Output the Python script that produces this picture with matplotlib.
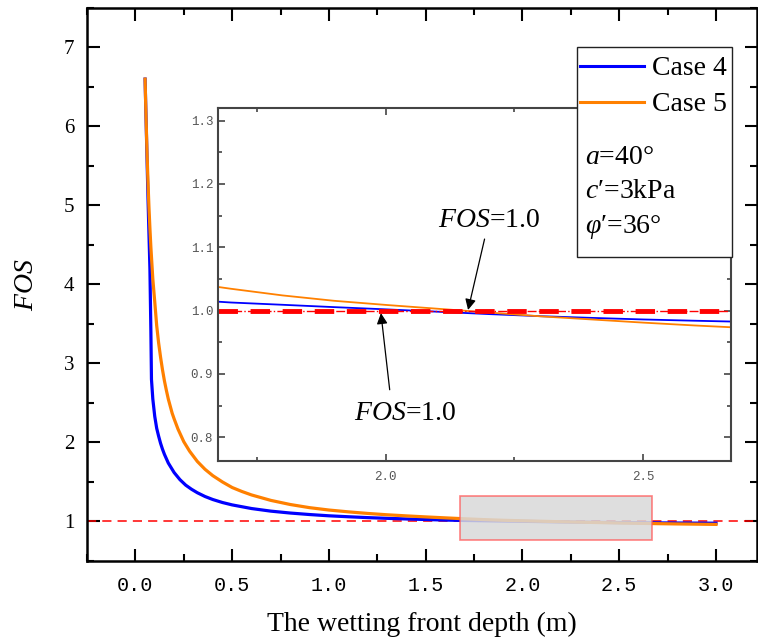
import matplotlib
matplotlib.use("Agg")
import matplotlib.pyplot as plt
from matplotlib.patches import Rectangle
from matplotlib.lines import Line2D
from matplotlib.ticker import MultipleLocator, FormatStrFormatter

plt.rcParams['font.family'] = ['Liberation Serif', 'DejaVu Serif']
plt.rcParams['mathtext.fontset'] = 'custom'
plt.rcParams['mathtext.rm'] = 'Liberation Serif'
plt.rcParams['mathtext.it'] = 'Liberation Serif:italic'

# wetting front depth (m) and factor of safety for both cases
depth_case4 = [0.05, 0.065, 0.075, 0.08, 0.083, 0.09, 0.10, 0.11, 0.12, 0.13,
               0.14, 0.15, 0.17, 0.20, 0.23, 0.26, 0.29, 0.32, 0.36, 0.40,
               0.45, 0.50, 0.60, 0.70, 0.80, 0.90, 1.00, 1.10, 1.20, 1.30,
               1.40, 1.50, 1.60, 1.70, 1.80, 1.90, 2.00, 2.10, 2.20, 2.30,
               2.40, 2.50, 2.60, 2.70, 2.80, 2.90, 3.00]
fos_case4 = [6.60, 5.10, 4.20, 3.40, 2.80, 2.55, 2.33, 2.18, 2.08, 1.99,
             1.915, 1.85, 1.74, 1.62, 1.53, 1.46, 1.408, 1.364, 1.316, 1.278,
             1.24, 1.21, 1.164, 1.131, 1.107, 1.088, 1.072, 1.06, 1.049, 1.04,
             1.032, 1.025, 1.018, 1.0128, 1.0092, 1.0055, 1.002, 0.9983, 0.9945, 0.9912,
             0.9885, 0.986, 0.984, 0.9822, 0.9808, 0.9795, 0.9785]

depth_case5 = [0.05, 0.055, 0.06, 0.065, 0.07, 0.075, 0.08, 0.09, 0.10, 0.11,
               0.12, 0.13, 0.14, 0.15, 0.16, 0.17, 0.18, 0.19, 0.20, 0.22,
               0.25, 0.28, 0.32, 0.36, 0.40, 0.45, 0.50, 0.55, 0.60, 0.70,
               0.80, 0.90, 1.00, 1.10, 1.20, 1.30, 1.40, 1.50, 1.60, 1.70,
               1.80, 1.90, 2.00, 2.10, 2.20, 2.30, 2.40, 2.50, 2.60, 2.70,
               2.80, 2.90, 3.00]
fos_case5 = [6.60, 6.11, 5.67, 5.30, 4.98, 4.71, 4.47, 4.07, 3.78, 3.48,
             3.26, 3.08, 2.92, 2.78, 2.66, 2.55, 2.46, 2.37, 2.30, 2.17,
             2.01, 1.89, 1.76, 1.66, 1.58, 1.50, 1.43, 1.38, 1.336, 1.267,
             1.215, 1.175, 1.145, 1.122, 1.102, 1.085, 1.071, 1.058, 1.046, 1.0345,
             1.024, 1.0155, 1.009, 1.003, 0.997, 0.991, 0.986, 0.981, 0.9765, 0.9725,
             0.969, 0.966, 0.963]

fos_limit = 1.0
zoom_x = (1.675, 2.67)
zoom_y = (0.765, 1.325)

params = [r'$a$=40°', r'$c′$=3kPa', r'$\varphi′$=36°']

blue = '#0000ff'
orange = '#ff8000'

fig = plt.figure(figsize=(7.58, 6.44), dpi=100)
ax = fig.add_axes([0.1148, 0.1289, 0.8839, 0.8587])

ax.plot(depth_case4, fos_case4, color=blue, lw=2.3, zorder=3)
ax.plot(depth_case5, fos_case5, color=orange, lw=2.3, zorder=3)
ax.axhline(fos_limit, color='red', lw=1.1, ls=(0, (6, 4)), zorder=2)
ax.add_patch(Rectangle((zoom_x[0], zoom_y[0]), zoom_x[1] - zoom_x[0], zoom_y[1] - zoom_y[0],
                       facecolor=(0.85, 0.85, 0.85, 0.85), edgecolor=(1, 0.35, 0.35, 0.75),
                       lw=1.2, zorder=4))

ax.set_xlim(-0.25, 3.212)
ax.set_ylim(0.5, 7.5)
ax.xaxis.set_major_locator(MultipleLocator(0.5))
ax.xaxis.set_minor_locator(MultipleLocator(0.25))
ax.yaxis.set_major_locator(MultipleLocator(1))
ax.yaxis.set_minor_locator(MultipleLocator(0.5))
ax.xaxis.set_major_formatter(FormatStrFormatter('%.1f'))
ax.tick_params(which='both', direction='in', top=True, right=True, width=1.5)
ax.tick_params(which='major', length=9)
ax.tick_params(which='minor', length=5)
ax.tick_params(axis='x', pad=11)
ax.tick_params(axis='y', pad=9, labelsize=15)
for lab in ax.get_xticklabels():
    lab.set_fontfamily('Liberation Mono')
    lab.set_fontsize(14.5)
for sp in ax.spines.values():
    sp.set_linewidth(1.8)
ax.set_xlabel('The wetting front depth (m)', fontsize=20, labelpad=12)
ax.set_ylabel(r'$FOS$', fontsize=20, labelpad=18)

# zoomed view around FOS = 1
ins = fig.add_axes([0.2876, 0.2842, 0.6768, 0.5481])
ins.plot(depth_case4, fos_case4, color=blue, lw=1.3)
ins.plot(depth_case5, fos_case5, color=orange, lw=1.3)
ins.axhline(fos_limit, color='red', lw=3.5, ls=(0, (4, 2.6)))
ins.axhline(fos_limit, color='red', lw=1.0, ls='-.')
ins.set_xlim(zoom_x)
ins.set_ylim(0.7625, 1.32)
ins.xaxis.set_major_locator(MultipleLocator(0.5))
ins.xaxis.set_minor_locator(MultipleLocator(0.25))
ins.yaxis.set_major_locator(MultipleLocator(0.1))
ins.yaxis.set_minor_locator(MultipleLocator(0.05))
ins.xaxis.set_major_formatter(FormatStrFormatter('%.1f'))
ins.yaxis.set_major_formatter(FormatStrFormatter('%.1f'))
ins.tick_params(which='both', direction='in', top=True, right=True, width=1.2,
                color='#444444', labelcolor='#555555', labelsize=9)
ins.tick_params(which='major', length=5)
ins.tick_params(which='minor', length=3)
ins.tick_params(axis='x', pad=7)
for lab in ins.get_xticklabels() + ins.get_yticklabels():
    lab.set_fontfamily('Liberation Mono')
for sp in ins.spines.values():
    sp.set_linewidth(1.5)
    sp.set_color('#444444')

arrow = dict(arrowstyle='-|>', color='k', lw=0.9, mutation_scale=16, shrinkA=0, shrinkB=0)
ins.annotate('', xy=(2.160, 1.001), xytext=(2.192, 1.113), arrowprops=arrow)
ins.annotate('', xy=(1.991, 0.996), xytext=(2.008, 0.875), arrowprops=arrow)
ins.text(2.2, 1.143, r'$FOS$=1.0', fontsize=20, ha='center', va='center')
ins.text(2.038, 0.838, r'$FOS$=1.0', fontsize=20, ha='center', va='center')

# legend box with the slope parameters
W, H = 758.0, 644.0
fig.patches.append(Rectangle((577 / W, 1 - 257 / H), 155 / W, 210 / H,
                             transform=fig.transFigure, facecolor='white',
                             edgecolor='#222222', lw=1.0, zorder=5))
handles = [Line2D([], [], color=blue, lw=2.2), Line2D([], [], color=orange, lw=2.2)]
leg = fig.legend(handles, ['Case 4', 'Case 5'], loc='upper left',
                 bbox_to_anchor=(580 / W, 1 - 56 / H), frameon=False, fontsize=20,
                 borderpad=0, borderaxespad=0, handlelength=2.3, handletextpad=0.3,
                 labelspacing=0.38)
leg.set_zorder(6)
for i, s in enumerate(params):
    fig.text(585 / W, 1 - (157 + 35 * i) / H, s, fontsize=20, va='center', ha='left', zorder=6)

fig.savefig('out.png', dpi=100)
